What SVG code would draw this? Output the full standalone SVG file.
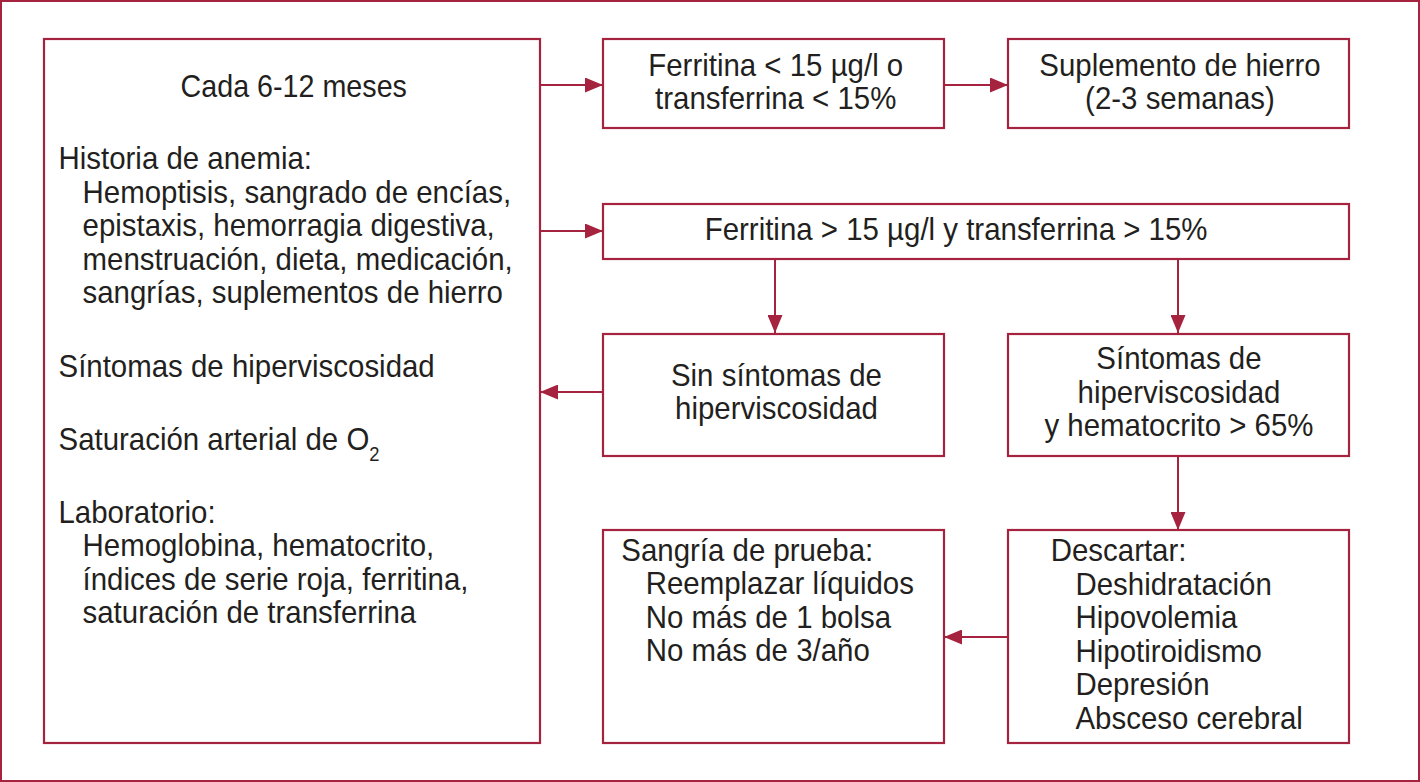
<svg xmlns="http://www.w3.org/2000/svg" width="1420" height="782" viewBox="0 0 1420 782">
<defs>
<marker id="ah" markerUnits="userSpaceOnUse" markerWidth="18" markerHeight="15" refX="18" refY="7.5" orient="auto">
<path d="M0,0 L18,7.5 L0,15 z" fill="#A6233F"/>
</marker>
<style>
.box{fill:#fff;stroke:#A6233F;stroke-width:2.2}
.frame{fill:#fff;stroke:#A6233F;stroke-width:2}
.con{fill:none;stroke:#A6233F;stroke-width:2;marker-end:url(#ah)}
text{font-family:"Liberation Sans",Arial,sans-serif;font-size:32px;fill:#231F20}
.c{text-anchor:middle}
</style>
</defs>
<rect class="frame" x="1" y="1" width="1418" height="780"/>
<g id="connectors">
<path class="con" d="M540,85 H603"/>
<path class="con" d="M944,85 H1008"/>
<path class="con" d="M540,231 H603"/>
<path class="con" d="M775,259 V333"/>
<path class="con" d="M1178,259 V333"/>
<path class="con" d="M603,392 H540"/>
<path class="con" d="M1178,456 V530"/>
<path class="con" d="M1008,637 H944"/>
</g>
<g id="monitor">
<rect class="box" x="44" y="39" width="496" height="704"/>
<g transform="scale(0.92 1)">
<text class="c" x="319.3" y="97" textLength="246" lengthAdjust="spacingAndGlyphs">Cada 6-12 meses</text>
<text x="63.6" y="169.5">Historia de anemia:</text>
<text x="89.7" y="203">Hemoptisis, sangrado de encías,</text>
<text x="89.7" y="236.5">epistaxis, hemorragia digestiva,</text>
<text x="89.7" y="270">menstruación, dieta, medicación,</text>
<text x="89.7" y="303.5">sangrías, suplementos de hierro</text>
<text x="63.6" y="377">Síntomas de hiperviscosidad</text>
<text x="63.6" y="450">Saturación arterial de O<tspan font-size="20" dy="11">2</tspan></text>
<text x="63.6" y="523">Laboratorio:</text>
<text x="89.7" y="556.5">Hemoglobina, hematocrito,</text>
<text x="89.7" y="590">índices de serie roja, ferritina,</text>
<text x="89.7" y="623.5">saturación de transferrina</text>
</g>
</g>
<g id="ferritina-baja">
<rect class="box" x="603" y="39" width="341" height="89"/>
<g transform="scale(0.92 1)">
<text class="c" x="843.2" y="76">Ferritina &lt; 15 µg/l o</text>
<text class="c" x="843.2" y="109.5">transferrina &lt; 15%</text>
</g>
</g>
<g id="suplemento">
<rect class="box" x="1008" y="39" width="341" height="89"/>
<g transform="scale(0.92 1)">
<text class="c" x="1282.6" y="76">Suplemento de hierro</text>
<text class="c" x="1282.6" y="109.5">(2-3 semanas)</text>
</g>
</g>
<g id="ferritina-normal">
<rect class="box" x="603" y="204" width="746" height="55"/>
<g transform="scale(0.92 1)">
<text x="766" y="240.5">Ferritina &gt; 15 µg/l y transferrina &gt; 15%</text>
</g>
</g>
<g id="sin-sintomas">
<rect class="box" x="603" y="334" width="341" height="122"/>
<g transform="scale(0.92 1)">
<text class="c" x="844" y="386">Sin síntomas de</text>
<text class="c" x="844" y="419.5">hiperviscosidad</text>
</g>
</g>
<g id="con-sintomas">
<rect class="box" x="1008" y="334" width="341" height="122"/>
<g transform="scale(0.92 1)">
<text class="c" x="1281.5" y="369.5">Síntomas de</text>
<text class="c" x="1281.5" y="403">hiperviscosidad</text>
<text class="c" x="1281.5" y="436.5">y hematocrito &gt; 65%</text>
</g>
</g>
<g id="sangria">
<rect class="box" x="603" y="530" width="341" height="213"/>
<g transform="scale(0.92 1)">
<text x="675.3" y="561">Sangría de prueba:</text>
<text x="701.8" y="594.5">Reemplazar líquidos</text>
<text x="701.8" y="628">No más de 1 bolsa</text>
<text x="701.8" y="661.5">No más de 3/año</text>
</g>
</g>
<g id="descartar">
<rect class="box" x="1008" y="530" width="341" height="213"/>
<g transform="scale(0.92 1)">
<text x="1142.1" y="561.5">Descartar:</text>
<text x="1169" y="595">Deshidratación</text>
<text x="1169" y="628.5">Hipovolemia</text>
<text x="1169" y="662">Hipotiroidismo</text>
<text x="1169" y="695.5">Depresión</text>
<text x="1169" y="729">Absceso cerebral</text>
</g>
</g>
</svg>
